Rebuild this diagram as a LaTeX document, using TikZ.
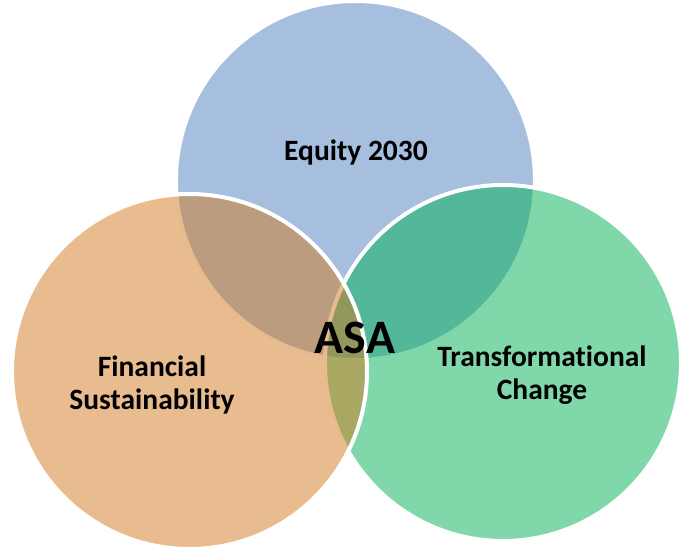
\documentclass[tikz,border=0pt]{standalone}
\usepackage{fontspec}
\setmainfont[Ligatures=NoCommon]{Carlito}
\usepackage{tikz}

\definecolor{equityblue}{RGB}{79,127,191}
\definecolor{financeorange}{RGB}{209,121,31}
\definecolor{changegreen}{RGB}{1,175,83}

\begin{document}
\begin{tikzpicture}
[
    x=1pt,y=-1pt,
    venn/.style={draw=white, line width=4pt, fill opacity=0.5},
    vennlabel/.style={font=\bfseries\fontsize{29.5}{33}\selectfont, align=center, text=black},
]
\useasboundingbox (0,0) rectangle (681,548);
% Circles (blue first, then green, orange on top)
\draw[venn, fill=equityblue] (355.5,180.5) circle (179.5);
\draw[venn, fill=changegreen] (503,363) circle (178);
\draw[venn, fill=financeorange] (189.5,371.5) circle (177.5);
% Labels
\node[vennlabel] (equity) at (356,152) {Equity 2030};
\node[vennlabel] (finance) at (152,385) {Financial\\Sustainability};
\node[vennlabel] (change) at (542,375) {Transformational\\Change};
\node[vennlabel, font=\bfseries\fontsize{48}{56}\selectfont] (asa) at (355,338) {ASA};
\end{tikzpicture}
\end{document}
